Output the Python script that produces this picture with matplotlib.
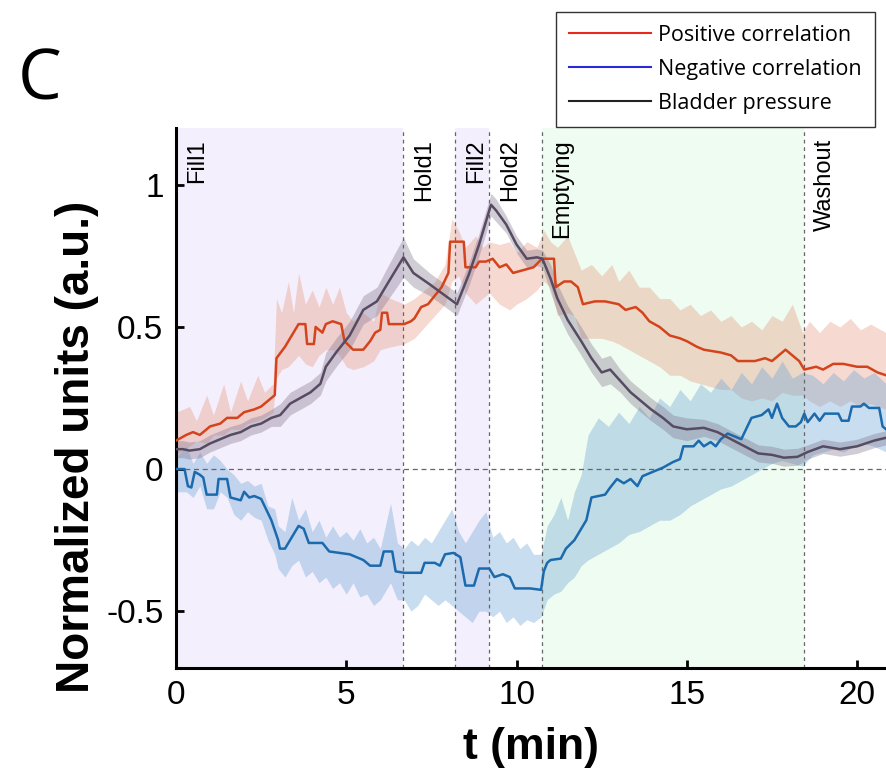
import numpy as np
import matplotlib
matplotlib.use("Agg")
import matplotlib.pyplot as plt
from matplotlib.lines import Line2D

plt.rcParams['font.family'] = ['Liberation Sans', 'DejaVu Sans']

# phase boundaries (min) and labels
phase_edges = [0.0, 6.68, 8.2, 9.2, 10.74, 18.44]
phase_names = ["Fill1", "Hold1", "Fill2", "Hold2", "Emptying", "Washout"]

# positive correlation: mean trace
pos_t = [0.0, 0.3, 0.5, 0.7, 1.0, 1.3, 1.5, 1.8, 2.0, 2.3, 2.5, 2.8, 2.9, 2.95, 3.2, 3.45,
         3.6, 3.8, 3.85, 4.05, 4.1, 4.3, 4.4, 4.6, 4.85, 4.95, 5.2, 5.5, 5.7, 5.85, 6.0, 6.05,
         6.2, 6.25, 6.7, 6.9, 7.0, 7.2, 7.4, 7.6, 7.8, 8.0, 8.05, 8.45, 8.5, 8.8, 8.9, 9.1,
         9.3, 9.5, 9.7, 9.9, 10.2, 10.5, 10.75, 11.1, 11.15, 11.4, 11.6, 11.8, 11.95, 12.3,
         12.6, 13.0, 13.2, 13.5, 13.7, 13.9, 14.2, 14.5, 14.8, 15.0, 15.3, 15.5, 16.0, 16.3,
         16.5, 17.0, 17.3, 17.5, 17.7, 17.9, 18.1, 18.3, 18.45, 18.8, 19.0, 19.3, 19.6, 20.0,
         20.3, 20.6, 20.85]
pos_mean = [0.10, 0.12, 0.13, 0.12, 0.15, 0.16, 0.18, 0.18, 0.20, 0.21, 0.22, 0.25, 0.26, 0.39,
            0.43, 0.48, 0.51, 0.51, 0.44, 0.44, 0.50, 0.48, 0.51, 0.52, 0.51, 0.45, 0.42, 0.42,
            0.45, 0.48, 0.49, 0.55, 0.55, 0.51, 0.51, 0.52, 0.53, 0.57, 0.58, 0.61, 0.64, 0.69,
            0.80, 0.80, 0.71, 0.71, 0.73, 0.73, 0.74, 0.71, 0.72, 0.69, 0.70, 0.71, 0.74, 0.74,
            0.64, 0.66, 0.66, 0.64, 0.58, 0.59, 0.59, 0.58, 0.56, 0.57, 0.55, 0.52, 0.50, 0.47,
            0.46, 0.45, 0.43, 0.42, 0.41, 0.40, 0.38, 0.38, 0.39, 0.38, 0.40, 0.42, 0.40, 0.38,
            0.35, 0.36, 0.35, 0.37, 0.37, 0.36, 0.36, 0.34, 0.33]

# positive correlation: band edges
pos_band_t = [0.0, 0.4, 0.6, 0.9, 1.1, 1.4, 1.6, 1.9, 2.1, 2.4, 2.6, 2.85, 2.95, 3.1, 3.3, 3.45,
              3.6, 3.8, 4.0, 4.2, 4.4, 4.6, 4.8, 5.0, 5.2, 5.5, 5.8, 6.0, 6.3, 6.7, 7.0, 7.3,
              7.6, 7.9, 8.1, 8.3, 8.5, 8.8, 9.0, 9.2, 9.5, 9.8, 10.0, 10.3, 10.6, 10.8, 11.0,
              11.2, 11.5, 11.7, 11.9, 12.2, 12.5, 12.8, 13.0, 13.3, 13.6, 13.9, 14.2, 14.5,
              14.8, 15.1, 15.4, 15.7, 16.0, 16.3, 16.6, 16.9, 17.2, 17.5, 17.8, 18.1, 18.4,
              18.6, 18.9, 19.2, 19.5, 19.8, 20.1, 20.4, 20.85]
pos_lo = [0.05, 0.08, 0.10, 0.09, 0.12, 0.12, 0.14, 0.14, 0.16, 0.17, 0.18, 0.20, 0.32, 0.35,
          0.36, 0.38, 0.40, 0.37, 0.36, 0.40, 0.42, 0.42, 0.40, 0.36, 0.35, 0.36, 0.38, 0.42,
          0.43, 0.44, 0.46, 0.50, 0.54, 0.58, 0.66, 0.68, 0.62, 0.58, 0.60, 0.62, 0.58, 0.56,
          0.58, 0.60, 0.63, 0.66, 0.64, 0.54, 0.55, 0.54, 0.46, 0.46, 0.46, 0.45, 0.44, 0.42,
          0.40, 0.38, 0.36, 0.33, 0.33, 0.31, 0.30, 0.29, 0.28, 0.28, 0.25, 0.24, 0.25, 0.24,
          0.27, 0.26, 0.26, 0.24, 0.22, 0.24, 0.22, 0.24, 0.22, 0.23, 0.21]
pos_hi = [0.20, 0.22, 0.17, 0.26, 0.19, 0.30, 0.20, 0.31, 0.24, 0.33, 0.27, 0.30, 0.60, 0.55,
          0.66, 0.55, 0.69, 0.58, 0.63, 0.57, 0.64, 0.58, 0.64, 0.55, 0.52, 0.55, 0.52, 0.62,
          0.60, 0.58, 0.60, 0.63, 0.66, 0.72, 0.88, 0.84, 0.78, 0.82, 0.78, 0.80, 0.79, 0.80,
          0.76, 0.80, 0.78, 0.84, 0.80, 0.78, 0.82, 0.76, 0.70, 0.72, 0.68, 0.72, 0.66, 0.70,
          0.64, 0.64, 0.60, 0.60, 0.56, 0.58, 0.54, 0.56, 0.52, 0.54, 0.50, 0.52, 0.49, 0.54,
          0.52, 0.58, 0.48, 0.52, 0.48, 0.52, 0.50, 0.53, 0.49, 0.51, 0.48]

# negative correlation: mean trace
neg_t = [0.0, 0.25, 0.35, 0.45, 0.55, 0.7, 0.8, 0.9, 1.2, 1.25, 1.5, 1.6, 1.9, 2.0, 2.15, 2.3,
         2.5, 2.8, 3.0, 3.05, 3.2, 3.4, 3.6, 3.75, 3.9, 4.3, 4.5, 4.8, 5.1, 5.3, 5.5, 5.7, 6.0,
         6.1, 6.35, 6.45, 6.7, 7.2, 7.3, 7.6, 7.75, 7.9, 8.15, 8.35, 8.5, 8.75, 8.9, 9.2, 9.35,
         9.6, 9.8, 9.95, 10.4, 10.72, 10.8, 10.9, 11.0, 11.3, 11.45, 11.7, 11.9, 12.05, 12.2,
         12.6, 12.75, 12.95, 13.15, 13.35, 13.55, 13.7, 14.0, 14.3, 14.6, 14.8, 14.9, 15.2,
         15.35, 15.5, 15.7, 15.85, 16.0, 16.2, 16.6, 16.9, 17.2, 17.4, 17.5, 17.65, 17.8, 18.0,
         18.2, 18.35, 18.45, 18.55, 18.75, 18.9, 19.05, 19.45, 19.55, 19.75, 19.85, 20.1,
         20.2, 20.35, 20.65, 20.75, 20.85]
neg_mean = [0.00, 0.00, -0.06, -0.065, -0.01, -0.02, -0.03, -0.09, -0.09, -0.035, -0.035,
            -0.10, -0.11, -0.08, -0.10, -0.095, -0.105, -0.18, -0.25, -0.28, -0.28, -0.24,
            -0.20, -0.21, -0.26, -0.26, -0.29, -0.295, -0.30, -0.31, -0.32, -0.34, -0.34,
            -0.29, -0.29, -0.36, -0.365, -0.365, -0.33, -0.33, -0.34, -0.30, -0.295, -0.31,
            -0.41, -0.41, -0.35, -0.35, -0.38, -0.37, -0.38, -0.42, -0.42, -0.425, -0.36,
            -0.33, -0.32, -0.315, -0.28, -0.25, -0.21, -0.18, -0.10, -0.09, -0.065, -0.035,
            -0.05, -0.035, -0.06, -0.025, -0.01, 0.005, 0.025, 0.035, 0.08, 0.08, 0.10, 0.08,
            0.095, 0.08, 0.105, 0.125, 0.105, 0.18, 0.19, 0.21, 0.18, 0.23, 0.18, 0.15, 0.15,
            0.165, 0.195, 0.165, 0.195, 0.17, 0.195, 0.195, 0.17, 0.17, 0.22, 0.22, 0.23,
            0.215, 0.215, 0.15, 0.14]

# negative correlation: band edges
neg_band_t = [0.0, 0.3, 0.5, 0.7, 0.9, 1.1, 1.3, 1.5, 1.7, 1.9, 2.1, 2.3, 2.5, 2.7, 2.9, 3.0,
              3.2, 3.4, 3.6, 3.8, 4.0, 4.2, 4.4, 4.6, 4.8, 5.0, 5.2, 5.4, 5.6, 5.8, 6.0, 6.3,
              6.5, 6.7, 6.9, 7.1, 7.3, 7.5, 7.7, 7.9, 8.1, 8.3, 8.5, 8.7, 8.9, 9.1, 9.3, 9.5,
              9.7, 9.9, 10.1, 10.3, 10.5, 10.72, 10.9, 11.1, 11.3, 11.5, 11.7, 11.9, 12.1, 12.4,
              12.7, 13.0, 13.3, 13.6, 13.9, 14.2, 14.5, 14.8, 15.1, 15.4, 15.7, 16.0, 16.3,
              16.6, 16.9, 17.2, 17.5, 17.8, 18.1, 18.4, 18.7, 19.0, 19.3, 19.6, 19.9, 20.2,
              20.5, 20.85]
neg_lo = [-0.08, -0.08, -0.10, -0.06, -0.14, -0.14, -0.08, -0.10, -0.16, -0.18, -0.15, -0.17,
          -0.18, -0.25, -0.30, -0.35, -0.38, -0.34, -0.32, -0.38, -0.36, -0.40, -0.38, -0.42,
          -0.40, -0.44, -0.40, -0.45, -0.44, -0.48, -0.46, -0.40, -0.46, -0.46, -0.50, -0.48,
          -0.44, -0.46, -0.48, -0.46, -0.48, -0.50, -0.52, -0.54, -0.50, -0.50, -0.52, -0.50,
          -0.54, -0.52, -0.55, -0.53, -0.54, -0.52, -0.46, -0.44, -0.43, -0.40, -0.38, -0.34,
          -0.32, -0.30, -0.28, -0.26, -0.23, -0.22, -0.20, -0.18, -0.18, -0.16, -0.13, -0.11,
          -0.09, -0.07, -0.06, -0.04, -0.02, 0.00, 0.02, 0.03, 0.02, 0.01, 0.05, 0.06, 0.07,
          0.06, 0.08, 0.09, 0.08, 0.06]
neg_hi = [0.04, 0.08, 0.02, 0.06, 0.02, 0.05, 0.03, 0.00, -0.02, -0.05, -0.04, -0.06, -0.05,
          -0.13, -0.14, -0.20, -0.22, -0.10, -0.18, -0.14, -0.22, -0.18, -0.24, -0.20, -0.24,
          -0.22, -0.25, -0.21, -0.26, -0.24, -0.28, -0.12, -0.26, -0.28, -0.25, -0.27, -0.24,
          -0.26, -0.22, -0.18, -0.14, -0.22, -0.26, -0.22, -0.18, -0.15, -0.24, -0.22, -0.26,
          -0.24, -0.28, -0.26, -0.30, -0.30, -0.20, -0.16, -0.10, -0.18, -0.08, -0.02, 0.12,
          0.18, 0.15, 0.20, 0.16, 0.22, 0.18, 0.25, 0.22, 0.28, 0.24, 0.30, 0.27, 0.32, 0.28,
          0.34, 0.30, 0.36, 0.32, 0.38, 0.32, 0.34, 0.33, 0.30, 0.34, 0.31, 0.35, 0.32, 0.34,
          0.30]

# bladder pressure: mean trace and band half-width
bp_t = [0.0, 0.2, 0.4, 0.7, 1.0, 1.3, 1.6, 1.9, 2.2, 2.5, 2.8, 3.06, 3.35, 3.65, 3.95, 4.24,
        4.4, 4.7, 5.1, 5.5, 5.9, 6.25, 6.68, 6.97, 7.45, 7.85, 8.25, 8.6, 8.9, 9.25, 9.4, 9.7,
        10.0, 10.3, 10.6, 10.76, 11.0, 11.2, 11.5, 11.9, 12.2, 12.5, 12.75, 13.05, 13.35,
        13.65, 13.95, 14.3, 14.6, 15.0, 15.5, 15.9, 16.3, 16.7, 17.1, 17.5, 17.85, 18.25,
        18.55, 19.0, 19.5, 20.0, 20.5, 20.85]
bp_mean = [0.07, 0.07, 0.065, 0.07, 0.09, 0.105, 0.12, 0.13, 0.15, 0.16, 0.18, 0.19, 0.23,
           0.25, 0.27, 0.30, 0.36, 0.41, 0.47, 0.56, 0.59, 0.66, 0.745, 0.69, 0.65, 0.615, 0.58,
           0.685, 0.79, 0.93, 0.91, 0.86, 0.79, 0.74, 0.745, 0.74, 0.67, 0.60, 0.525, 0.45,
           0.39, 0.34, 0.35, 0.31, 0.27, 0.24, 0.21, 0.18, 0.15, 0.14, 0.145, 0.13, 0.105,
           0.08, 0.055, 0.05, 0.04, 0.043, 0.06, 0.08, 0.07, 0.08, 0.10, 0.11]
bp_sd = [0.03, 0.03, 0.03, 0.03, 0.03, 0.03, 0.03, 0.03, 0.03, 0.03, 0.03, 0.04, 0.04, 0.04,
         0.04, 0.04, 0.05, 0.05, 0.05, 0.05, 0.05, 0.06, 0.07, 0.05, 0.04, 0.04, 0.04, 0.04,
         0.04, 0.04, 0.04, 0.03, 0.03, 0.03, 0.03, 0.03, 0.05, 0.05, 0.05, 0.05, 0.05, 0.05,
         0.05, 0.04, 0.04, 0.04, 0.04, 0.04, 0.04, 0.04, 0.03, 0.03, 0.03, 0.03, 0.03, 0.03,
         0.03, 0.03, 0.025, 0.025, 0.025, 0.025, 0.025, 0.025]

fig = plt.figure(figsize=(8.86, 7.79), dpi=100)
ax = fig.add_axes([176 / 886, 1 - 668 / 779, 1 - 176 / 886, (668 - 128) / 779])

# phase backgrounds
ax.axvspan(phase_edges[0], phase_edges[1], color='#f4effc', lw=0, zorder=0)
ax.axvspan(phase_edges[2], phase_edges[3], color='#f4effc', lw=0, zorder=0)
ax.axvspan(phase_edges[4], phase_edges[5], color='#effcf1', lw=0, zorder=0)

# bands
ax.fill_between(pos_band_t, pos_lo, pos_hi, color='#e58a6e', alpha=0.32, lw=0, zorder=1)
ax.fill_between(neg_band_t, neg_lo, neg_hi, color='#6fa6d6', alpha=0.38, lw=0, zorder=1)
bp_lo = np.array(bp_mean) - np.array(bp_sd)
bp_hi = np.array(bp_mean) + np.array(bp_sd)
ax.fill_between(bp_t, bp_lo, bp_hi, color='#7d7088', alpha=0.35, lw=0, zorder=1)

# mean traces
ax.plot(pos_t, pos_mean, color='#d4441c', lw=1.8, zorder=3)
ax.plot(neg_t, neg_mean, color='#1b6aad', lw=1.8, zorder=3)
ax.plot(bp_t, bp_mean, color='#574b62', lw=1.8, zorder=3)

# dashed reference lines
ax.axhline(0, color='#666666', lw=0.9, ls=(0, (4, 3)), zorder=2)
for xe in phase_edges[1:]:
    ax.axvline(xe, color='#666666', lw=0.9, ls=(0, (3, 3)), zorder=2)

for xe, name in zip(phase_edges, phase_names):
    ax.annotate(name, xy=(xe, 1.0), xycoords=('data', 'axes fraction'),
                xytext=(7, -8), textcoords='offset points',
                rotation=90, ha='left', va='top', fontsize=17, zorder=4)

ax.set_xlim(0, 20.85)
ax.set_ylim(-0.7, 1.2)
ax.set_xticks([0, 5, 10, 15, 20])
ax.set_yticks([-0.5, 0, 0.5, 1])
ax.set_yticklabels(['-0.5', '0', '0.5', '1'])
ax.tick_params(direction='in', length=6, width=2, labelsize=24, pad=9)
for side in ['top', 'right']:
    ax.spines[side].set_visible(False)
for side in ['left', 'bottom']:
    ax.spines[side].set_linewidth(2.2)

ax.set_xlabel('t (min)', fontsize=32, fontweight='bold', labelpad=11)
ax.set_ylabel('Normalized units (a.u.)', fontsize=33, fontweight='bold')
ax.yaxis.set_label_coords(-0.108, 0.41)

fig.text(18 / 886, 1 - 100 / 779, 'C', fontsize=50, family=['Open Sans', 'DejaVu Sans'],
         ha='left', va='baseline')

handles = [Line2D([], [], color='#e82a1c', lw=1.5),
           Line2D([], [], color='#2b2bd6', lw=1.5),
           Line2D([], [], color='#222222', lw=1.5)]
labels = ['Positive correlation', 'Negative correlation', 'Bladder pressure']
leg = fig.legend(handles, labels, loc='upper right', bbox_to_anchor=(875 / 886, 1 - 12 / 779),
                 prop={'family': ['Open Sans', 'DejaVu Sans'], 'size': 15.5},
                 frameon=True, fancybox=False, edgecolor='#333333', framealpha=1,
                 handlelength=3.8, handletextpad=0.35, labelspacing=0.6, borderpad=0.6,
                 borderaxespad=0)
leg.get_frame().set_linewidth(1.0)

fig.savefig('out.png', dpi=100)
